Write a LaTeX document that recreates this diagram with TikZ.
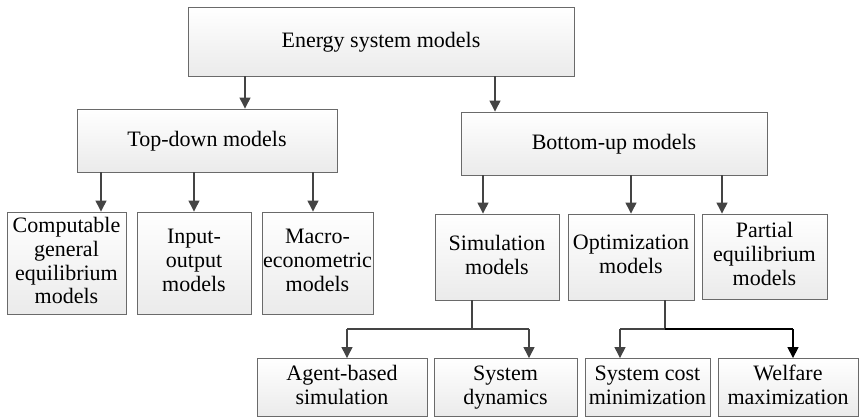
\documentclass[tikz,border=0pt]{standalone}
\usepackage{fontspec}
\setmainfont{Liberation Serif}
\usetikzlibrary{arrows.meta}
\definecolor{boxline}{HTML}{6A6A6A}
\definecolor{conn}{HTML}{444444}
\tikzset{
  mbox/.style={draw=boxline, line width=0.9pt, top color=white, bottom color=black!8,
    inner sep=0pt, align=center, font=\fontsize{22}{23.8}\selectfont,
    execute at begin node=\rule{0pt}{17.4pt}, execute at end node=\rule[-5pt]{0pt}{5pt}},
  arr/.style={draw=conn, line width=1.3pt, -{Triangle[width=11pt,length=11pt]}},
  arrdark/.style={draw=black, line width=1.6pt, -{Triangle[width=11pt,length=11pt]}},
  plain/.style={draw=conn, line width=1.3pt},
  plaindark/.style={draw=black, line width=1.6pt}
}
\begin{document}
\begin{tikzpicture}[x=1pt,y=-1pt]
\useasboundingbox (0,0) rectangle (859,417);
% boxes
\node[mbox, minimum width=386pt, minimum height=69pt] (es) at (381,41.5) {Energy system models};
\node[mbox, minimum width=260pt, minimum height=63pt] (td) at (207,140.5) {Top-down models};
\node[mbox, minimum width=306pt, minimum height=63pt] (bu) at (614,143.5) {Bottom-up models};
\node[mbox, minimum width=119pt, minimum height=102pt] (cge) at (66.5,263) {Computable\\general\\equilibrium\\models};
\node[mbox, minimum width=114pt, minimum height=102pt] (io) at (194,263) {Input-\\output\\models};
\node[mbox, minimum width=111pt, minimum height=102pt] (me) at (317.5,263) {Macro-\\econometric\\models};
\node[mbox, minimum width=124pt, minimum height=86pt] (sim) at (497,257) {Simulation\\models};
\node[mbox, minimum width=126pt, minimum height=86pt] (opt) at (631,257) {Optimization\\models};
\node[mbox, minimum width=125pt, minimum height=85pt] (pe) at (764.5,256.5) {Partial\\equilibrium\\models};
\node[mbox, minimum width=170pt, minimum height=58pt] (ab) at (342,387.5) {Agent-based\\simulation};
\node[mbox, minimum width=143pt, minimum height=58pt] (sd) at (505.5,387.5) {System\\dynamics};
\node[mbox, minimum width=125pt, minimum height=58pt] (sc) at (647.5,387.5) {System cost\\minimization};
\node[mbox, minimum width=140pt, minimum height=58pt] (wm) at (788,387.5) {Welfare\\maximization};
% x positions of connectors
\coordinate (xa) at (245,0);
\coordinate (xb) at (495,0);
\coordinate (x1) at (101,0);
\coordinate (x2) at (194,0);
\coordinate (x3) at (313,0);
\coordinate (x4) at (483,0);
\coordinate (x5) at (631,0);
\coordinate (x6) at (722,0);
\coordinate (simj) at (472,329);
\coordinate (simL) at (347,329);
\coordinate (simR) at (529,329);
\coordinate (optj) at (665,329);
\coordinate (optL) at (620,329);
\coordinate (optR) at (793,329);
% connectors
\draw[arr] (es.south -| xa) -- (td.north -| xa);
\draw[arr] (es.south -| xb) -- (bu.north -| xb);
\draw[arr] (td.south -| x1) -- (cge.north -| x1);
\draw[arr] (td.south -| x2) -- (io.north -| x2);
\draw[arr] (td.south -| x3) -- (me.north -| x3);
\draw[arr] (bu.south -| x4) -- (sim.north -| x4);
\draw[arr] (bu.south -| x5) -- (opt.north -| x5);
\draw[arr] (bu.south -| x6) -- (pe.north -| x6);
\draw[plain] (sim.south -| simj) -- (simj);
\draw[plain] (simL) -- (simR);
\draw[arr] (simL) -- (ab.north -| simL);
\draw[arr] (simR) -- (sd.north -| simR);
\draw[plain] (opt.south -| optj) -- (optj);
\draw[plain] (optL) -- (optj);
\draw[plaindark] (optj) -- (optR);
\draw[arr] (optL) -- (sc.north -| optL);
\draw[arrdark] (optR) -- (wm.north -| optR);
\end{tikzpicture}
\end{document}
